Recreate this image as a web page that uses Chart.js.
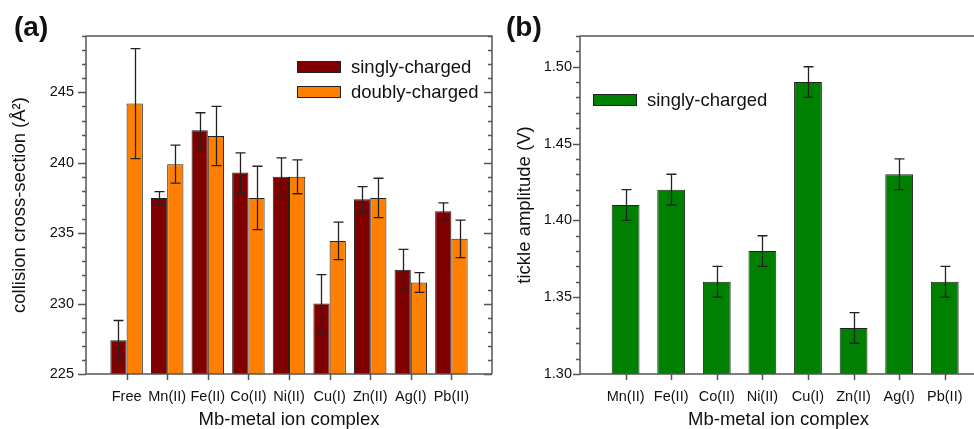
<!DOCTYPE html>
<html lang="en">
<head>
  <meta charset="UTF-8" />
  <title>Mb-metal ion complex</title>
  <script src="https://cdn.jsdelivr.net/npm/chart.js"></script>
  <style>
    html, body { margin: 0; padding: 0; background: #fff; overflow: hidden; }
    body { width: 974px; height: 429px; position: relative; font-family: 'Liberation Sans', Arial, sans-serif; color: #111; }
    canvas { position: absolute; top: 0; }
    #chartA { left: 0; }
    #chartB { left: 495px; }
    .tag { position: absolute; top: 11px; font-weight: bold; font-size: 28px; }
    .legend { position: absolute; font-size: 18.5px; }
    .legend .row { display: flex; align-items: center; height: 25px; }
    .legend .box { width: 42px; height: 10px; border: 1px solid #222; margin-right: 10px; }
  </style>
</head>
<body>

  <canvas id="chartA" width="495" height="429"></canvas>
  <canvas id="chartB" width="482" height="429"></canvas>

  <div class="tag" style="left:14px">(a)</div>
  <div class="tag" style="left:506px">(b)</div>

  <!-- legends -->
  <div class="legend" style="left:297px; top:54px">
    <div class="row"><span class="box" style="background:#800000"></span>singly-charged</div>
    <div class="row"><span class="box" style="background:#ff8000"></span>doubly-charged</div>
  </div>
  <div class="legend" style="left:593px; top:87px">
    <div class="row"><span class="box" style="background:#008000"></span>singly-charged</div>
  </div>

  <script>
    // (a) collision cross-section
    const catsA = ['Free', 'Mn(II)', 'Fe(II)', 'Co(II)', 'Ni(II)', 'Cu(I)', 'Zn(II)', 'Ag(I)', 'Pb(II)'];
    const singlyCcs = [227.4, 237.5, 242.3, 239.3, 239.0, 230.0, 237.4, 232.4, 236.55];
    const singlyCcsErr = [1.4, 0.45, 1.25, 1.4, 1.35, 2.05, 0.9, 1.45, 0.6];
    const doublyCcs = [244.2, 239.9, 241.9, 237.5, 239.0, 234.45, 237.5, 231.5, 234.6];
    const doublyCcsErr = [3.9, 1.35, 2.1, 2.25, 1.2, 1.33, 1.4, 0.7, 1.33];
    const yTicksA = [225, 230, 235, 240, 245];

    // (b) tickle amplitude
    const catsB = ['Mn(II)', 'Fe(II)', 'Co(II)', 'Ni(II)', 'Cu(I)', 'Zn(II)', 'Ag(I)', 'Pb(II)'];
    const tickle = [1.41, 1.42, 1.36, 1.38, 1.49, 1.33, 1.43, 1.36];
    const tickleErr = [0.01, 0.01, 0.01, 0.01, 0.01, 0.01, 0.01, 0.01];
    const yTicksB = [1.30, 1.35, 1.40, 1.45, 1.50];

    const font = 'Liberation Sans, Arial, sans-serif';
    const pts = vals => vals.map((v, i) => ({ x: i, y: v }));

    // error bars from each dataset's "errors"
    const errorBars = {
      id: 'errorBars',
      afterDatasetsDraw(chart) {
        const { ctx, scales: { y } } = chart;
        ctx.save();
        ctx.strokeStyle = '#222';
        ctx.lineWidth = 1.3;
        chart.data.datasets.forEach((ds, di) => {
          chart.getDatasetMeta(di).data.forEach((bar, i) => {
            const v = ds.data[i].y, e = ds.errors[i];
            const top = y.getPixelForValue(v + e), bot = y.getPixelForValue(v - e);
            const x = Math.round(bar.x) + 0.5;
            ctx.beginPath();
            ctx.moveTo(x, top); ctx.lineTo(x, bot);
            ctx.moveTo(x - 5, top); ctx.lineTo(x + 5, top);
            ctx.moveTo(x - 5, bot); ctx.lineTo(x + 5, bot);
            ctx.stroke();
          });
        });
        ctx.restore();
      }
    };

    // axis box with major / minor ticks
    const frame = {
      id: 'frame',
      afterDatasetsDraw(chart, args, o) {
        const { ctx, chartArea: a, scales: { x, y } } = chart;
        ctx.save();
        ctx.strokeStyle = '#555';
        ctx.lineWidth = 1.5;
        ctx.beginPath();
        ctx.moveTo(a.left, a.bottom); ctx.lineTo(a.left, a.top); ctx.lineTo(a.right, a.top);
        if (o.rightSide) ctx.lineTo(a.right, a.bottom);
        ctx.moveTo(a.left, a.bottom); ctx.lineTo(a.right, a.bottom);
        const n = Math.round((y.max - y.min) / o.minorStep);
        for (let i = 0; i <= n; i++) {
          const v = y.min + i * o.minorStep;
          const py = Math.round(y.getPixelForValue(v)) + 0.5;
          const len = (i % o.minorPerMajor === 0) ? o.major : o.minor;
          ctx.moveTo(a.left - len, py); ctx.lineTo(a.left, py);
          if (o.rightSide) { ctx.moveTo(a.right - len, py); ctx.lineTo(a.right, py); }
        }
        x.ticks.forEach(t => {
          const px = Math.round(x.getPixelForValue(t.value)) + 0.5;
          ctx.moveTo(px, a.bottom); ctx.lineTo(px, a.bottom + 6);
        });
        ctx.stroke();
        ctx.restore();
      }
    };

    function xAxis(cats, max) {
      return {
        type: 'linear', min: -1, max: max, offset: false,
        grid: { display: false }, border: { display: false },
        afterBuildTicks: s => { s.ticks = cats.map((c, i) => ({ value: i })); },
        afterFit: s => { s.height = 55; },
        ticks: { autoSkip: false, maxRotation: 0, padding: 6, color: '#111',
                 font: { family: font, size: 14.5 }, callback: v => cats[v] },
        title: { display: true, text: 'Mb-metal ion complex', color: '#111', padding: 0,
                 font: { family: font, size: 18.5, lineHeight: 1.0 } }
      };
    }

    function yAxis(min, max, ticks, width, label, fmt, pad, titlePad) {
      return {
        type: 'linear', min: min, max: max,
        grid: { display: false }, border: { display: false },
        afterBuildTicks: s => { s.ticks = ticks.map(v => ({ value: v })); },
        afterFit: s => { s.width = width; },
        ticks: { padding: pad, color: '#111', font: { family: font, size: 14.5 }, callback: fmt },
        title: { display: true, text: label, color: '#111', padding: titlePad,
                 font: { family: font, size: 18.5, lineHeight: 1.0 } }
      };
    }

    const common = {
      responsive: false,
      animation: false,
      events: [],
      plugins: { legend: { display: false }, tooltip: { enabled: false } }
    };

    new Chart(document.getElementById('chartA'), {
      type: 'bar',
      data: {
        datasets: [
          { label: 'singly-charged', data: pts(singlyCcs), errors: singlyCcsErr,
            backgroundColor: '#800000', borderColor: '#222', borderWidth: 1 },
          { label: 'doubly-charged', data: pts(doublyCcs), errors: doublyCcsErr,
            backgroundColor: '#ff8000', borderColor: '#222', borderWidth: 1 }
        ]
      },
      options: {
        ...common,
        layout: { padding: { top: 36, right: 3, left: 0, bottom: 0 } },
        datasets: { bar: { categoryPercentage: 0.8, barPercentage: 1.0 } },
        plugins: { ...common.plugins,
          frame: { rightSide: true, minorStep: 1, minorPerMajor: 5, major: 8, minor: 4 } },
        scales: {
          x: xAxis(catsA, 9),
          y: yAxis(225, 249, yTicksA, 86, 'collision cross-section (Å²)', v => v, 4, { top: 11, bottom: 0 })
        }
      },
      plugins: [errorBars, frame]
    });

    new Chart(document.getElementById('chartB'), {
      type: 'bar',
      data: {
        datasets: [
          { label: 'singly-charged', data: pts(tickle), errors: tickleErr,
            backgroundColor: '#008000', borderColor: '#222', borderWidth: 1 }
        ]
      },
      options: {
        ...common,
        layout: { padding: { top: 36, right: 0, left: 0, bottom: 0 } },
        datasets: { bar: { categoryPercentage: 0.61, barPercentage: 1.0 } },
        plugins: { ...common.plugins,
          frame: { rightSide: false, minorStep: 0.01, minorPerMajor: 5, major: 7, minor: 4 } },
        scales: {
          x: xAxis(catsB, 7.707),
          y: yAxis(1.30, 1.52, yTicksB, 85, 'tickle amplitude (V)', v => v.toFixed(2), 0, { top: 21, bottom: 0 })
        }
      },
      plugins: [errorBars, frame]
    });
  </script>
</body>
</html>
